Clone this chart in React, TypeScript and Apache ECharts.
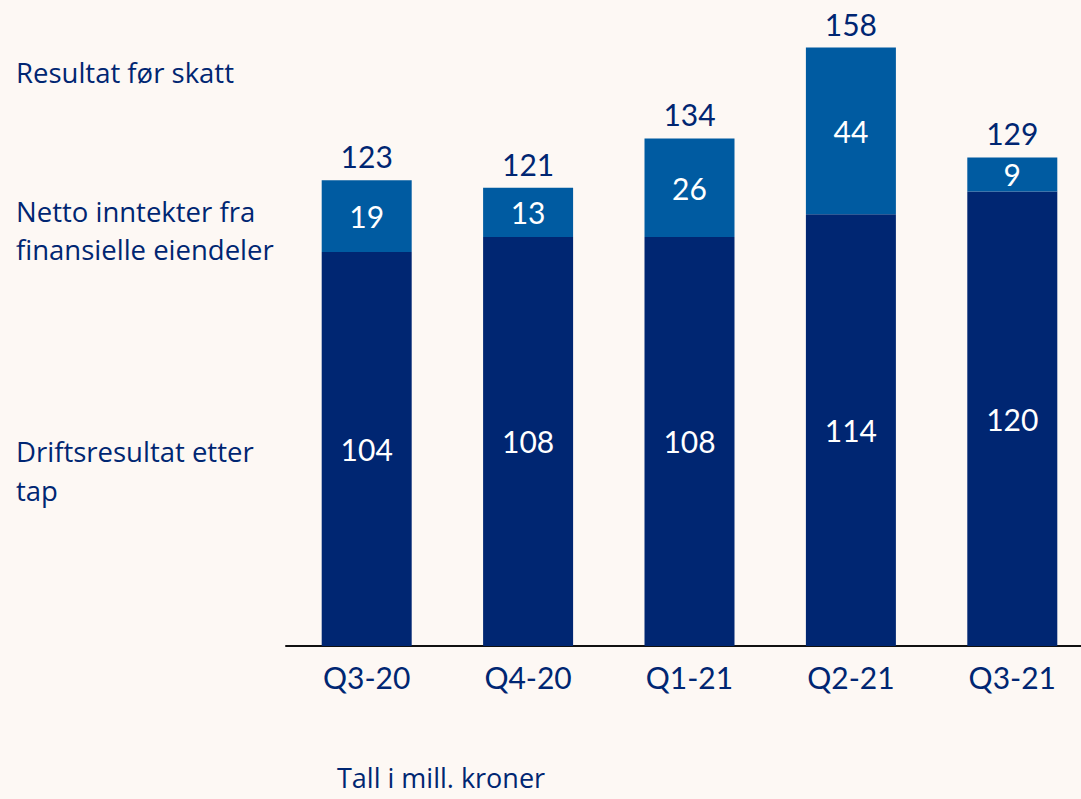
import React, { useEffect, useRef } from "react";
import * as echarts from "echarts";

const categories = ["Q3-20", "Q4-20", "Q1-21", "Q2-21", "Q3-21"];
const driftsresultat = [104, 108, 108, 114, 120];
const finansielle = [19, 13, 26, 44, 9];
const resultatForSkatt = [123, 121, 134, 158, 129];

const DARK = "#002672";
const LIGHT = "#005BA1";
const BG = "#FDF8F4";

export default function App() {
  const ref = useRef<HTMLDivElement>(null);
  useEffect(() => {
    if (!ref.current) return;
    const chart = echarts.init(ref.current, undefined, { renderer: "svg" });
    const labelFont = "Lato, 'Noto Sans', sans-serif";
    const textFont = "27.5px 'Open Sans', sans-serif";
    chart.setOption({
      animation: false,
      backgroundColor: BG,
      grid: { left: 286, right: 0, top: 40, bottom: 153 },
      xAxis: {
        type: "category",
        data: categories,
        axisTick: { show: false },
        axisLine: { lineStyle: { color: "#111", width: 2 } },
        axisLabel: { color: DARK, fontSize: 30, fontFamily: labelFont, margin: 16 },
      },
      yAxis: { type: "value", min: 0, max: 160, show: false, splitLine: { show: false } },
      graphic: [
        { type: "text", left: 16, top: 58, style: { text: "Resultat før skatt", fill: DARK, font: textFont } },
        { type: "text", left: 16, top: 192, style: { text: "Netto inntekter fra\nfinansielle eiendeler", fill: DARK, font: textFont, lineHeight: 38 } },
        { type: "text", left: 16, top: 432, style: { text: "Driftsresultat etter\ntap", fill: DARK, font: textFont, lineHeight: 39 } },
        { type: "text", left: 337, top: 764, style: { text: "Tall i mill. kroner", fill: DARK, font: "27px 'Open Sans', sans-serif" } },
      ],
      series: [
        {
          type: "bar",
          stack: "s",
          data: driftsresultat,
          barWidth: 90,
          itemStyle: { color: DARK },
          label: { show: true, position: "inside", color: "#fff", fontSize: 30, fontFamily: labelFont },
        },
        {
          type: "bar",
          stack: "s",
          data: finansielle,
          barWidth: 90,
          itemStyle: { color: LIGHT },
          label: { show: true, position: "inside", color: "#fff", fontSize: 30, fontFamily: labelFont },
        },
        {
          type: "bar",
          stack: "s",
          data: resultatForSkatt.map(() => 0),
          barWidth: 90,
          itemStyle: { color: "transparent" },
          label: {
            show: true,
            position: "top",
            distance: 9,
            color: DARK,
            fontSize: 30,
            fontFamily: labelFont,
            formatter: (p: any) => String(resultatForSkatt[p.dataIndex]),
          },
        },
      ],
    });
    return () => chart.dispose();
  }, []);
  return (
    <div style={{ position: "absolute", left: 0, top: 0, width: 1081, height: 799, overflow: "hidden", background: BG }}>
      <div ref={ref} style={{ width: 1093, height: 799 }} />
    </div>
  );
}
